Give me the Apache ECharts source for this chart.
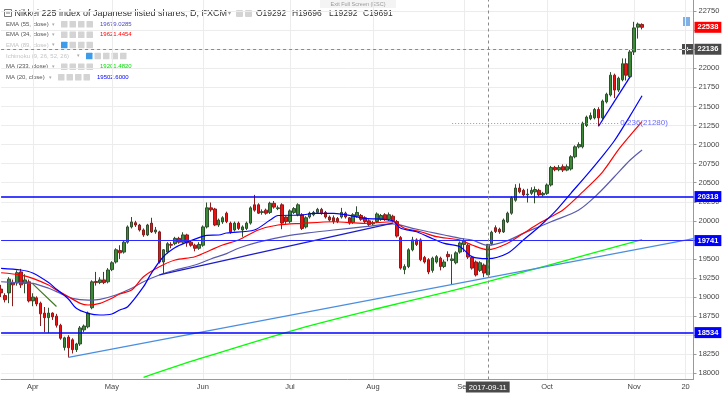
<!DOCTYPE html>
<html><head><meta charset="utf-8">
<script src="https://cdn.jsdelivr.net/npm/echarts@6/dist/echarts.min.js"></script>
<style>html,body{margin:0;padding:0;background:#fff}#c{width:723px;height:393px}</style>
</head><body><div id="c"></div>
<script>
// ---------- categories (weekday trading dates) ----------
const dates = [];
(function () {
  const d = new Date(Date.UTC(2017, 2, 22));
  while (dates.length < 176) {
    const w = d.getUTCDay();
    if (w !== 0 && w !== 6) dates.push(d.toISOString().slice(0, 10));
    d.setUTCDate(d.getUTCDate() + 1);
  }
})();
const monthNames = ['Jan','Feb','Mar','Apr','May','Jun','Jul','Aug','Sep','Oct','Nov','Dec'];
const yTickValues = [18000,18250,18500,18750,19000,19250,19500,19750,20000,20250,20500,20750,21000,21250,21500,21750,22000,22250,22500,22750];

// ---------- candles ----------
const candleOpen = [19105,19020,19055,19190,19185,19330,19180,19200,18950,18990,18920,18790,18730,18790,18750,18630,18340,18475,18440,18310,18385,18570,18610,18860,19205,19190,19225,19200,19360,19460,19610,19590,19720,19920,19975,19945,19880,19815,19970,19855,19855,19460,19590,19690,19700,19770,19720,19815,19720,19680,19640,19680,19920,20170,20155,19945,19985,20100,19970,19880,19970,19880,19900,19970,20210,20210,20110,20140,20110,20230,20160,20210,20050,19990,20110,20080,20080,19920,20050,20080,20110,20150,20110,20050,20040,20030,20050,20100,20040,19980,20060,20070,20040,20000,19960,19990,20020,20080,20020,20060,19990,19780,19360,19400,19620,19750,19750,19520,19490,19350,19460,19510,19400,19560,19480,19450,19590,19690,19680,19520,19460,19350,19420,19292,19700,19910,19890,19855,19985,20100,20270,20430,20400,20340,20360,20380,20400,20340,20360,20470,20700,20670,20710,20665,20680,20840,20970,20970,21250,21340,21350,21460,21350,21560,21650,21910,21715,21850,22060,21890,22215,22540,22575];
const candleClose = [19055,18965,19235,19160,19320,19160,19225,18950,19000,18910,18780,18730,18790,18740,18630,18460,18465,18335,18310,18385,18595,18620,18790,19200,19190,19225,19190,19355,19450,19620,19580,19720,19920,19985,19945,19880,19815,19945,19855,19880,19460,19620,19700,19680,19770,19720,19815,19710,19680,19640,19690,19920,20170,20145,19945,20010,20040,19990,19855,19970,19900,19920,19970,20170,20140,20100,20120,20100,20230,20180,20170,19970,19990,20130,20160,20210,19900,20040,20100,20110,20150,20100,20050,20010,19990,19990,20110,20050,19970,20080,20110,20020,19990,19950,19975,20090,20070,20020,20080,20000,19800,19380,19400,19620,19750,19690,19490,19460,19330,19510,19530,19400,19460,19530,19500,19580,19710,19740,19525,19380,19290,19450,19315,19691,19850,19860,19855,20010,20100,20300,20430,20380,20340,20350,20400,20410,20340,20360,20470,20700,20670,20700,20665,20710,20840,20970,21000,21280,21360,21380,21460,21350,21570,21660,21910,21715,21870,22060,21910,22215,22530,22580,22538];
const candleLow = [19000,18930,18920,18880,19150,19120,19050,18930,18880,18880,18620,18540,18530,18700,18600,18440,18300,18210,18260,18280,18360,18540,18590,18840,19150,19170,19170,19180,19340,19440,19500,19570,19700,19900,19920,19860,19790,19800,19840,19830,19440,19310,19570,19640,19680,19700,19700,19660,19660,19600,19620,19660,19900,20120,19930,19920,19960,19970,19830,19860,19880,19790,19880,19950,20120,20090,20080,20080,20090,20160,20140,19890,19960,19970,20090,20060,19880,19900,20030,20060,20090,20080,20030,19990,19960,19970,20030,20030,19950,19960,20040,20000,19970,19920,19940,19970,20000,20000,20000,19980,19780,19360,19300,19380,19600,19670,19470,19440,19300,19320,19440,19350,19380,19470,19160,19430,19570,19590,19500,19360,19270,19330,19260,19292,19680,19840,19830,19840,19970,20080,20250,20360,20320,20240,20340,20230,20320,20320,20340,20450,20650,20650,20640,20650,20660,20820,20950,20950,21230,21320,21330,21240,21330,21540,21630,21610,21690,21830,21840,21870,22175,22390,22510];
const candleHigh = [19160,19050,19260,19230,19350,19370,19300,19230,19050,19010,18940,18870,18860,18800,18780,18650,18480,18500,18460,18400,18620,18640,18810,19220,19330,19260,19330,19380,19470,19640,19680,19740,19940,20050,20000,19960,19900,19960,20040,19920,19870,19630,19720,19720,19790,19790,19850,19830,19740,19700,19720,19940,20240,20240,20170,20030,20060,20120,19990,19990,19990,19940,19990,20190,20340,20230,20150,20160,20250,20260,20200,20230,20060,20150,20180,20230,20100,20060,20120,20130,20170,20170,20130,20070,20070,20050,20170,20120,20050,20100,20190,20090,20060,20020,20000,20110,20090,20100,20110,20080,20010,19800,19430,19640,19790,19770,19770,19540,19510,19530,19550,19530,19490,19600,19560,19600,19730,19770,19700,19540,19480,19470,19440,19696,19870,19940,19910,20030,20120,20320,20480,20490,20420,20420,20440,20450,20420,20380,20490,20720,20720,20730,20740,20740,20860,20990,21030,21300,21380,21420,21480,21490,21590,21680,21950,21930,21890,22130,22130,22240,22610,22600,22590];

// ---------- indicator curves read at sample bars [bar index, value] ----------
const ma20 = [[0,19377],[5,19355],[8,19315],[12,19190],[14,19102],[17,18975],[19,18852],[22,18787],[25,18765],[28,18778],[30,18830],[32,18873],[36,19136],[38,19315],[41,19529],[44,19650],[47,19722],[49,19760],[52,19810],[55,19814],[57,19840],[64,19880],[68,20010],[70,20070],[76,20076],[79,20098],[84,20098],[92,20033],[99,20001],[101,19902],[105,19857],[108,19790],[112,19705],[116,19660],[119,19530],[123,19503],[128,19574],[132,19748],[136,19923],[138,20020],[140,20120],[144,20361],[148,20600],[152,20850],[155,21050],[159,21380],[162,21640]];
const ema34 = [[0,19319],[5,19289],[8,19246],[12,19158],[14,19092],[17,19005],[20,18918],[22,18896],[25,18918],[28,18984],[30,19040],[33,19092],[36,19267],[40,19398],[44,19486],[49,19529],[53,19617],[56,19683],[60,19748],[65,19880],[70,19945],[76,19967],[84,19988],[92,19967],[99,19988],[102,19902],[106,19857],[110,19792],[116,19748],[119,19683],[123,19621],[128,19705],[132,19836],[136,19967],[139,20054],[142,20142],[147,20380],[152,20640],[156,20930],[159,21120],[162,21300]];
const ema55 = [[0,19201],[5,19188],[8,19180],[12,19115],[15,19049],[18,18984],[22,18961],[25,18970],[29,19027],[33,19115],[36,19201],[40,19289],[44,19355],[49,19420],[53,19500],[57,19570],[60,19640],[65,19720],[72,19800],[79,19850],[84,19880],[92,19923],[99,19960],[104,19902],[108,19857],[112,19814],[116,19770],[119,19748],[123,19679],[128,19740],[132,19836],[136,19923],[139,19988],[146,20142],[151,20361],[155,20578],[159,20797],[162,20929]];
const ma233 = [[36,17947],[50,18188],[75,18581],[96,18860],[113,19070],[123,19201],[138,19414],[155,19656],[162,19755]];

// ---------- drawn trend lines [bar index, value] ----------
const trendLong = [[17,18210],[175,19766]];
const trendMid = [[40,19290],[99,19970]];
const trendApr = [[8,19173],[14,18877]];
const trendOct = [[151,21240],[159,21890]];

// ---------- horizontal levels / labels ----------
const levelValues = [20318, 19741, 18534];
const lastPrice = 22538;
const crossPrice = 22136;       // crosshair readout text
const crossLineLevel = 22250;   // where the crosshair line sits on the scale
const crossDate = '2017-09-11';
const fibLevel = 21280;
const fibFrom = 114, fibTo = 156;
const headerOHLC = ['O19292', 'H19696', 'L19292', 'C19691'];
const legendNames = ['EMA (55, close)', 'EMA (34, close)', 'EMA (89, close)', 'Ichimoku (9, 26, 52, 26)', 'MA (233, close)', 'MA (20, close)'];
const legendValues = ['19679.0285', '19621.4454', '', '', '19201.4820', '19502.6000'];

const FONT = '"Liberation Sans", Arial, sans-serif';

function isLabelIdx(i) {
  if (i === 0) return false;
  if (dates[i] === '2017-11-20') return true;
  return dates[i].slice(5, 7) !== dates[i - 1].slice(5, 7);
}

const candles = candleOpen.map((o, i) => [o, candleClose[i], candleLow[i], candleHigh[i]]);

function boxLabel(bg, text) {
  return {
    show: true, position: 'end', distance: 1, formatter: text,
    backgroundColor: bg, color: '#fff', fontSize: 7.5, fontFamily: FONT,
    padding: [2, 3, 1, 3], fontWeight: 'bold'
  };
}

const levelColors = ['#0000ff', '#2b2bff', '#0000ff'];
const levelWidths = [1.6, 1, 1.6];
const markData = levelValues.map((v, i) => ({
  yAxis: v, lineStyle: { color: levelColors[i], width: levelWidths[i], type: 'solid' },
  label: boxLabel('#0000ff', String(v))
}));
markData.push({ yAxis: lastPrice, lineStyle: { color: 'rgba(255,0,0,0)', width: 0 }, label: boxLabel('#ff0000', String(lastPrice)) });
markData.push({ yAxis: crossLineLevel, lineStyle: { color: '#8a8a8a', width: 1, type: [3, 3] }, label: boxLabel('#4a4a4a', String(crossPrice)) });
markData.push({
  xAxis: crossDate, lineStyle: { color: '#8a8a8a', width: 1, type: [3, 3] },
  label: { show: true, position: 'start', distance: 2, formatter: crossDate, backgroundColor: '#4a4a4a', color: '#fff', fontSize: 7.5, fontFamily: FONT, padding: [2, 3, 1, 3] }
});
markData.push([
  { coord: [dates[fibFrom], fibLevel], lineStyle: { color: '#8c8cff', width: 1, type: [1, 2] },
    label: { show: true, position: 'end', distance: 2, formatter: '0.236(' + fibLevel + ')', color: '#6b6bff', fontSize: 8, fontFamily: FONT } },
  { coord: [dates[fibTo], fibLevel] }
]);

function lineSeries(name, data, color, width, smooth) {
  return {
    type: 'line', name, data, smooth: smooth ? 0.3 : false, showSymbol: false, symbol: 'none',
    lineStyle: { color, width }, emphasis: { disabled: true }, silent: true, z: 3, clip: true
  };
}

// ---------- header graphics ----------
const gfx = [];
gfx.push({ type: 'rect', shape: { x: 4.5, y: 9.5, width: 7, height: 7 }, style: { fill: 'none', stroke: '#777', lineWidth: 1 } });
gfx.push({ type: 'line', shape: { x1: 6, y1: 13, x2: 10, y2: 13 }, style: { stroke: '#777', lineWidth: 1 } });
gfx.push({ type: 'text', style: { text: 'Nikkei 225 index of Japanese listed shares, D, FXCM', x: 14.5, y: 13.5, font: '9px ' + FONT, fill: '#333', verticalAlign: 'middle' } });
gfx.push({ type: 'text', style: { text: '▾', x: 228, y: 13.5, font: '6px ' + FONT, fill: '#999', verticalAlign: 'middle' } });
[236, 245].forEach(x => gfx.push({ type: 'rect', shape: { x, y: 10, width: 7, height: 7, r: 1 }, style: { fill: '#d4d4d4' } }));
const ohlcX = [256, 292, 329, 363];
headerOHLC.forEach((t, i) => gfx.push({ type: 'text', style: { text: t, x: ohlcX[i], y: 13.5, font: '8.5px ' + FONT, fill: '#333', verticalAlign: 'middle' } }));
gfx.push({ type: 'rect', shape: { x: 320, y: 0, width: 76, height: 8 }, style: { fill: '#f4f4f4' } });
gfx.push({ type: 'text', style: { text: 'Exit Full Screen (ESC)', x: 358, y: 4.5, font: '5.5px ' + FONT, fill: '#999', align: 'center', verticalAlign: 'middle' } });

const rowY = [24.3, 34.7, 45, 56, 66.7, 77.3];
const rowFaded = [false, false, true, true, false, false];
const rowValColor = ['#4b4bc0', '#ff0000', '', '', '#00dd00', '#0000ff'];
const rowIconX = [61, 61, 61, 86, 61, 58];
const rowIconN = [4, 4, 4, 5, 4, 4];
const rowValX = [100, 100, 0, 0, 100, 97];
const rowArrowX = [52, 52, 52, 77, 52, 49];
legendNames.forEach((n, i) => {
  const y = rowY[i];
  gfx.push({ type: 'text', style: { text: n, x: 6, y, font: '6px ' + FONT, fill: rowFaded[i] ? '#c4c4c4' : '#555', verticalAlign: 'middle' } });
  gfx.push({ type: 'text', style: { text: '▾', x: rowArrowX[i], y, font: '5px ' + FONT, fill: '#aaa', verticalAlign: 'middle' } });
  for (let k = 0; k < rowIconN[i]; k++) {
    const fill = (rowFaded[i] && k === 0) ? '#3d9be9' : '#d4d4d4';
    gfx.push({ type: 'rect', shape: { x: rowIconX[i] + k * 8.5, y: y - 3.3, width: 6.5, height: 6.5, r: 0.5 }, style: { fill } });
  }
  if (legendValues[i]) gfx.push({ type: 'text', style: { text: legendValues[i], x: rowValX[i], y, font: '6px ' + FONT, fill: rowValColor[i], verticalAlign: 'middle' } });
});
// crosshair "+" box and scale icon
gfx.push({ type: 'rect', shape: { x: 682, y: 44, width: 11, height: 10.5 }, style: { fill: '#4a4a4a' } });
gfx.push({ type: 'text', style: { text: '+', x: 687.5, y: 49.3, font: 'bold 8px ' + FONT, fill: '#fff', align: 'center', verticalAlign: 'middle' } });
gfx.push({ type: 'rect', shape: { x: 683, y: 17, width: 7, height: 9 }, style: { fill: '#7fb0e6' } });

const chart = echarts.init(document.getElementById('c'), null, { renderer: 'canvas' });
chart.setOption({
  animation: false,
  backgroundColor: '#ffffff',
  grid: { left: 1.1, right: 29.5, top: 0, bottom: 13.5, containLabel: false, outerBoundsMode: 'none' },
  xAxis: {
    type: 'category', data: dates, boundaryGap: false,
    axisLine: { show: true, lineStyle: { color: '#999', width: 1 } },
    axisTick: { show: false },
    axisLabel: {
      interval: (i) => isLabelIdx(i), margin: 3, color: '#444', fontSize: 7.5, fontFamily: FONT,
      formatter: (v) => v === '2017-11-20' ? '20' : monthNames[+v.slice(5, 7) - 1]
    },
    splitLine: { show: true, interval: (i) => isLabelIdx(i), lineStyle: { color: '#ececec', width: 1 } }
  },
  yAxis: {
    type: 'value', position: 'right', min: 17919, max: 22896, scale: true,
    axisLine: { show: true, lineStyle: { color: '#999', width: 1 } },
    axisTick: { show: true, length: 3, customValues: yTickValues, lineStyle: { color: '#999' } },
    axisLabel: { customValues: yTickValues, formatter: (v) => String(v), margin: 5, color: '#444', fontSize: 7.5, fontFamily: FONT, align: 'left' },
    splitLine: { show: true, lineStyle: { color: '#ececec', width: 1 } }
  },
  series: [
    {
      type: 'candlestick', name: 'JPN225', data: candles, barWidth: 3, clip: true,
      itemStyle: { color: '#3b8a35', color0: '#f01010', borderColor: '#2f4f2f', borderColor0: '#8c1c1c', borderWidth: 1 },
      emphasis: { disabled: true }, silent: true, z: 2,
      markLine: { symbol: 'none', silent: true, animation: false, data: markData }
    },
    lineSeries('MA233', ma233, '#00ff00', 1.3, true),
    lineSeries('EMA55', ema55, '#5a5aae', 1.2, true),
    lineSeries('EMA34', ema34, '#ff0000', 1.2, true),
    lineSeries('MA20', ma20, '#0000ff', 1.2, true),
    lineSeries('TrendLong', trendLong, '#4a8ee0', 1.2, false),
    lineSeries('TrendMid', trendMid, '#1c1ccc', 1.3, false),
    lineSeries('TrendApr', trendApr, '#3e7a22', 1.2, false),
    lineSeries('TrendOct', trendOct, '#0000ff', 1.3, false)
  ],
  graphic: gfx
});
</script>
</body></html>
